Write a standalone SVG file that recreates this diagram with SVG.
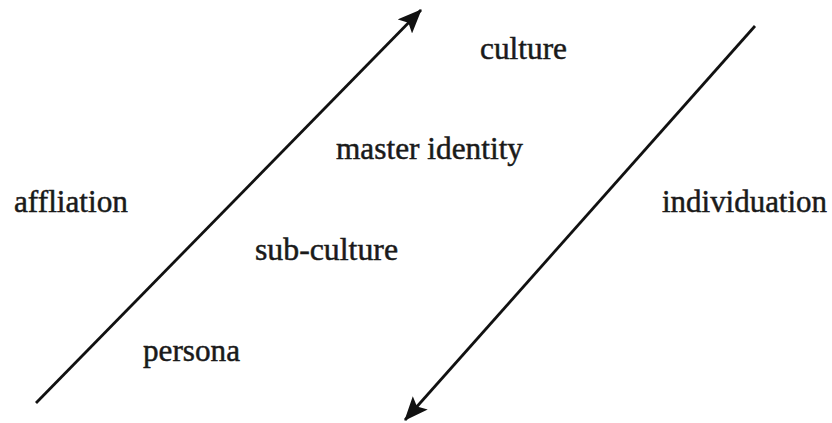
<svg xmlns="http://www.w3.org/2000/svg" width="832" height="423" viewBox="0 0 832 423">
  <style>
    .lbl { font-family: "Liberation Serif", "Times New Roman", serif; font-size: 32px; fill: #1a1a1a; stroke: #1a1a1a; stroke-width: 0.5px; }
    .axis { stroke: #111; stroke-width: 2.8; fill: none; }
  </style>
  <defs>
    <marker id="head" viewBox="0 0 24 20" refX="23" refY="10" markerWidth="24" markerHeight="20" markerUnits="userSpaceOnUse" orient="auto">
      <path d="M0,0 L24,10 L0,20 L5,10 Z" fill="#111"/>
    </marker>
  </defs>
  <rect width="832" height="423" fill="#fff"/>

  <g id="connectors">
    <line id="affiliation-axis" class="axis" x1="36" y1="403" x2="421" y2="10" marker-end="url(#head)"/>
    <line id="individuation-axis" class="axis" x1="755" y1="26" x2="405" y2="420" marker-end="url(#head)"/>
  </g>

  <g id="culture"><text class="lbl" x="480" y="59" textLength="87" lengthAdjust="spacingAndGlyphs">culture</text></g>
  <g id="master-identity"><text class="lbl" x="336" y="159" textLength="187" lengthAdjust="spacingAndGlyphs">master identity</text></g>
  <g id="affliation"><text class="lbl" x="14" y="212" textLength="114" lengthAdjust="spacingAndGlyphs">affliation</text></g>
  <g id="individuation"><text class="lbl" x="662" y="212" textLength="165" lengthAdjust="spacingAndGlyphs">individuation</text></g>
  <g id="sub-culture"><text class="lbl" x="255" y="260" textLength="143" lengthAdjust="spacingAndGlyphs">sub-culture</text></g>
  <g id="persona"><text class="lbl" x="143" y="361" textLength="97" lengthAdjust="spacingAndGlyphs">persona</text></g>
</svg>
